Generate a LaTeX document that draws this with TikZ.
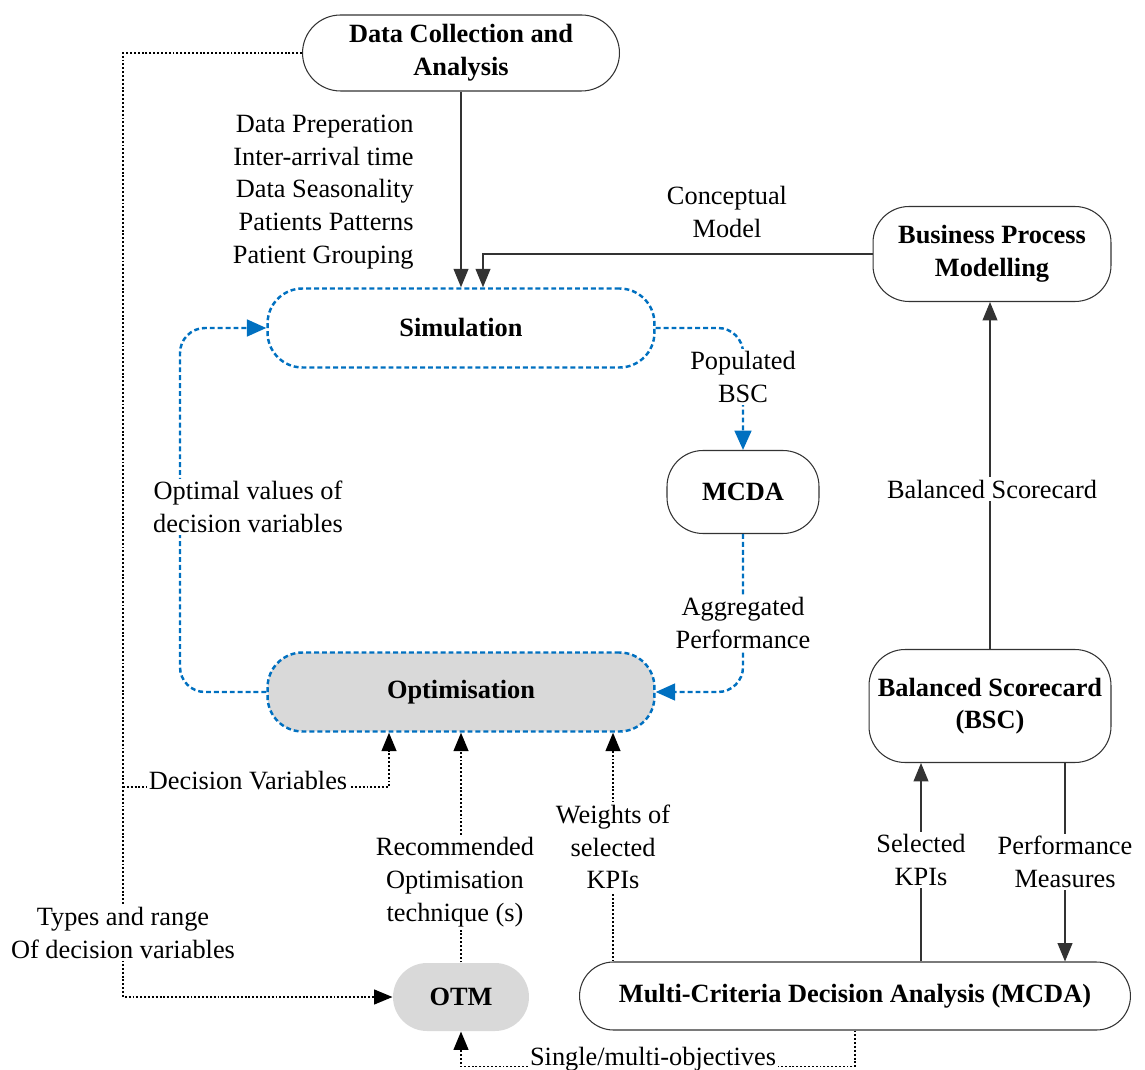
\documentclass[tikz,border=0pt]{standalone}
\usepackage{fontspec}
\setmainfont{Liberation Serif}
\usetikzlibrary{arrows.meta,calc}
\definecolor{flowblue}{HTML}{0070C0}
\definecolor{boxgray}{HTML}{D9D9D9}
\begin{document}
\begin{tikzpicture}[x=0.02cm,y=-0.02cm,
  every node/.style={font=\fontsize{15}{18.6}\selectfont},
  box/.style={draw=black!80,line width=0.6pt,rounded corners=0.72cm,align=center,
    inner sep=0pt,font=\fontsize{15}{18.6}\selectfont\bfseries},
  loopbox/.style={box,draw=flowblue,line width=1.4pt,dash pattern=on 2.8pt off 1.7pt,rounded corners=0.7cm},
  tag/.style={fill=white,inner sep=1.5pt,align=center},
  tip/.style={-{Triangle[length=10.5pt,width=8.5pt]}},
  bluetip/.style={-{Triangle[length=11pt,width=9.5pt]}},
  solidline/.style={draw=black!80,line width=0.7pt},
  dotline/.style={draw=black,line width=0.9pt,dash pattern=on 1.1pt off 1.1pt},
  blueline/.style={draw=flowblue,line width=1.4pt,dash pattern=on 2.8pt off 1.7pt,rounded corners=0.5cm}]
\useasboundingbox (0,0) rectangle (1145,1070);

% process boxes
\node[box,minimum width=6.34cm,minimum height=1.52cm,rounded corners=0.76cm] (dca) at (461,53) {Data Collection and\\Analysis};
\node[box,minimum width=4.76cm,minimum height=1.9cm] (bpm) at (992,254) {Business Process\\Modelling};
\node[loopbox,minimum width=7.74cm,minimum height=1.58cm] (sim) at (461,328) {Simulation};
\node[box,minimum width=3.04cm,minimum height=1.66cm] (mcdas) at (743,492) {MCDA};
\node[loopbox,fill=boxgray,minimum width=7.74cm,minimum height=1.58cm] (opt) at (461,692) {Optimisation};
\node[box,minimum width=4.84cm,minimum height=2.26cm] (bsc) at (990,706) {Balanced Scorecard\\(BSC)};
\node[box,draw=none,fill=boxgray,minimum width=2.72cm,minimum height=1.36cm,rounded corners=0.68cm] (otm) at (461,997) {OTM};
\node[box,minimum width=11.02cm,minimum height=1.36cm,rounded corners=0.68cm] (mcdab) at (855,996) {Multi-Criteria Decision Analysis (MCDA)};

% data inputs to the simulation
\draw[solidline,tip] (dca.south) -- (sim.north);
\node[anchor=east,align=right,inner sep=0pt] (datalist) at (414,192)
  {Data Preperation\\Inter-arrival time\\Data Seasonality\\Patients Patterns\\Patient Grouping};
\coordinate (simin) at ($(sim.north)+(22,0)$);
\draw[solidline,tip] (bpm.west) -| (simin);
\node[align=center] (concept) at (727,212) {Conceptual\\Model};

% simulation--MCDA--optimisation loop
\coordinate (sr) at (743,328);
\coordinate (or) at (743,692);
\coordinate (ol) at (180,692);
\coordinate (sl) at (180,328);
\draw[blueline,bluetip] (sim.east) -- (sr) -- (mcdas.north);
\draw[blueline,bluetip] (mcdas.south) -- (or) -- (opt.east);
\draw[blueline,bluetip] (opt.west) -- (ol) -- (sl) -- (sim.west);
\node[tag] at (743,377) {Populated\\BSC};
\node[tag] at (743,623) {Aggregated\\Performance};
\node[tag] at (248,507) {Optimal values of\\decision variables};

% decision variables and types
\coordinate (lt) at (123,53);
\coordinate (lb) at (123,997);
\coordinate (lm) at (123,787);
\coordinate (dvin) at ($(opt.south)+(-72,0)$);
\draw[dotline,tip] (dca.west) -- (lt) -- (lb) -- (otm.west);
\draw[dotline,tip] (lm) -| (dvin);
\node[tag,inner sep=1pt] at (248,781) {Decision Variables};
\node[tag] at (123,933) {Types and range\\Of decision variables};

% optimisation technique and weights
\draw[dotline,tip] (otm.north) -- (opt.south);
\node[tag] at (455,882) {Recommended\\Optimisation\\technique (s)};
\coordinate (wout) at ($(mcdab.north)+(-242,0)$);
\draw[dotline,tip] (wout) -- (wout |- opt.south);
\node[tag] at (613,847) {Weights of\\selected\\KPIs};

% MCDA and balanced scorecard
\coordinate (kout) at ($(mcdab.north)+(66,0)$);
\draw[solidline,tip] (kout) -- (kout |- bsc.south);
\node[tag] at (921,860) {Selected\\KPIs};
\coordinate (pout) at ($(bsc.south)+(75,0)$);
\draw[solidline,tip] (pout) -- (pout |- mcdab.north);
\node[tag] at (1065,862) {Performance\\Measures};
\draw[solidline,tip] (bsc.north) -- (bsc.north |- bpm.south);
\node[tag] at (992,489) {Balanced Scorecard};

% objectives back to OTM
\draw[dotline,tip] (mcdab.south) -- ++(0,36) -| (otm.south);
\node[tag,inner sep=1pt] at (653,1059) {Single/multi-objectives};
\end{tikzpicture}
\end{document}
